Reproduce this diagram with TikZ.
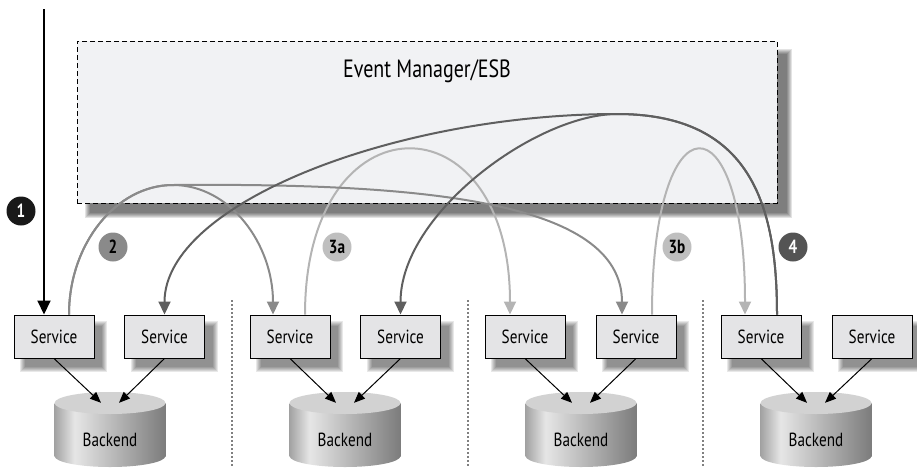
\documentclass[tikz,border=0pt]{standalone}
\usepackage{fontspec}
\setmainfont{PT Sans}[FakeStretch=0.8]
\usetikzlibrary{arrows.meta,calc}
\definecolor{esbfill}{HTML}{F1F2F4}
\definecolor{svcfill}{HTML}{E4E4E6}
\definecolor{ctwo}{HTML}{8A8A8A}
\definecolor{cthree}{HTML}{B4B4B4}
\definecolor{cfour}{HTML}{5F5F5F}
\definecolor{cylA}{HTML}{A2A2A2}
\definecolor{cylB}{HTML}{E6E6E6}
\definecolor{cylC}{HTML}{7C7C7C}
\definecolor{cyltop}{HTML}{D2D2D2}
\pgfdeclarehorizontalshading{cylshade}{100bp}{color(0bp)=(cylA); color(25bp)=(cylA); color(34bp)=(cylB); color(75bp)=(cylC); color(100bp)=(cylC)}
\begin{document}
\begin{tikzpicture}[x=1pt,y=-1pt,
  svc/.style={draw=black, line width=1pt, fill=svcfill, minimum width=80pt, minimum height=43pt, inner sep=0pt, font=\fontsize{19}{21}\selectfont},
  esbbox/.style={draw=black, line width=1pt, dash pattern=on 5pt off 3pt, fill=esbfill, minimum width=700pt, minimum height=162pt, inner sep=0pt},
  bk/.style={minimum width=111pt, minimum height=75pt, inner sep=0pt},
  bktext/.style={font=\fontsize{19}{21}\selectfont, inner sep=0pt},
  sep/.style={draw=black!50, line width=2pt, dash pattern=on 2pt off 2pt},
  sb/.style={draw=black, line width=1pt, -{Triangle[length=11pt,width=9pt]}},
  curve/.style={line width=2pt, -{Triangle[length=13pt,width=12pt]}},
  ctwoline/.style={curve, draw=ctwo, color=ctwo},
  cthreeline/.style={curve, draw=cthree, color=cthree},
  cfourline/.style={curve, draw=cfour, color=cfour},
  num/.style={circle, minimum size=29pt, inner sep=0pt, font=\bfseries\fontsize{19}{19}\selectfont},
]
\useasboundingbox (0,0) rectangle (917,467);

% ESB shadow and box
\foreach \k in {0,...,5} \fill[black,opacity=0.11] (85+\k,49+\k) rectangle (792-\k,218-\k);
\node[esbbox] (esb) at (427,122) {};
\node[font=\fontsize{25}{27}\selectfont, anchor=base, inner sep=0pt] (esbt) at (427,77) {Event Manager/ESB};

% separators
\draw[sep] (232,300) -- (232,467);
\draw[sep] (468,300) -- (468,467);
\draw[sep] (703,300) -- (703,467);

% backends
\foreach \n/\cx in {1/110,2/345,3/581,4/816}{
  \shade[shading=cylshade] (\cx-55.5,403) rectangle (\cx+55.5,456);
  \shade[shading=cylshade] (\cx,456) ellipse[x radius=55.5pt, y radius=11pt];
  \fill[cyltop] (\cx,403) ellipse[x radius=55.5pt, y radius=11pt];
  \node[bk] (b\n) at (\cx,429.5) {};
  \node[bktext] (bt\n) at (\cx,440) {Backend};
}

% services
\foreach \n/\cx in {1/54,2/164.5,3/290,4/400.5,5/525,6/636,7/761,8/872}{
  \foreach \k in {0,...,5} \fill[black,opacity=0.09] (\cx-34+\k,321+\k) rectangle (\cx+53-\k,372-\k);
  \node[svc] (s\n) at (\cx,336.5) {Service};
}

% service -> backend
\draw[sb] (s1.south) -- ([xshift=-9pt,yshift=-11pt]b1.north);
\draw[sb] (s2.south) -- ([xshift=9pt,yshift=-11pt]b1.north);
\draw[sb] (s3.south) -- ([xshift=-9pt,yshift=-11pt]b2.north);
\draw[sb] (s4.south) -- ([xshift=9pt,yshift=-11pt]b2.north);
\draw[sb] (s5.south) -- ([xshift=-9pt,yshift=-11pt]b3.north);
\draw[sb] (s6.south) -- ([xshift=9pt,yshift=-11pt]b3.north);
\draw[sb] (s7.south) -- ([xshift=-9pt,yshift=-11pt]b4.north);
\draw[sb] (s8.south) -- ([xshift=9pt,yshift=-11pt]b4.north);

% peaks
\coordinate (p2) at (173,185);
\coordinate (p4) at (617,114);

% curves 3a, 3b
\draw[cthreeline] ([xshift=15pt]s3.north) .. controls (305,95) and (510,95) .. ([xshift=-15pt]s5.north);
\draw[cthreeline] ([xshift=16pt]s6.north) .. controls (652,95) and (745,95) .. ([xshift=-16pt]s7.north);

% curves 2
\draw[ctwoline] ([xshift=15pt]s1.north) .. controls (69,244) and (116,185) .. (p2) .. controls (230,185) and (273,244) .. ([xshift=-17pt]s3.north);
\draw[ctwoline] ([xshift=15pt]s1.north) .. controls (69,244) and (116,185) .. (p2) .. controls (420,183) and (622,200) .. ([xshift=-14pt]s6.north);

% curves 4
\draw[cfourline] ([xshift=16pt]s7.north) .. controls (777,204) and (750,114) .. (p4) .. controls (537,114) and (400.5,213) .. (s4.north);
\draw[cfourline] ([xshift=16pt]s7.north) .. controls (777,204) and (750,114) .. (p4) .. controls (397,114) and (164.5,203) .. (s2.north);

% arrow 1
\coordinate (in1) at (44,9);
\draw[line width=2pt, -{Triangle[length=14pt,width=13pt]}] (in1) -- (in1 |- s1.north);

% labels
\node[num, fill=black!90, text=white] (l1) at (21,211) {1};
\node[num, fill=ctwo, text=black] (l2) at (113,247) {2};
\node[num, fill=black!25, text=black] (l3a) at (337,247) {3a};
\node[num, fill=black!25, text=black] (l3b) at (677,247) {3b};
\node[num, fill=black!67, text=white] (l4) at (793,247) {4};
\end{tikzpicture}
\end{document}
